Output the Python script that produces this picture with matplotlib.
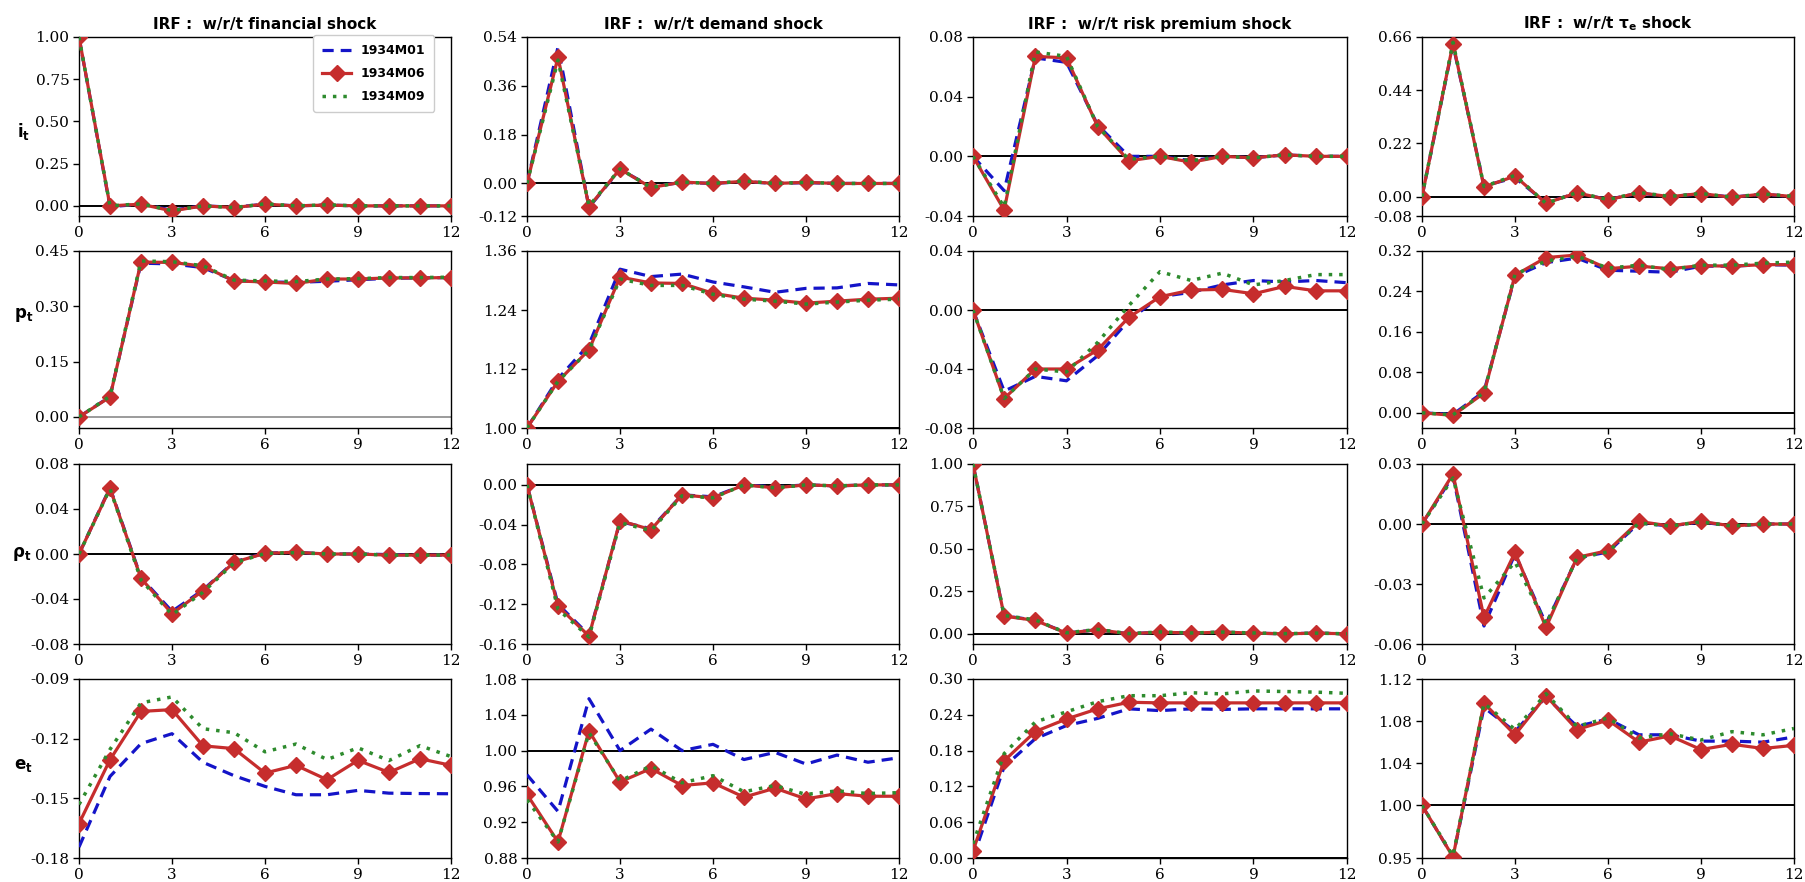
import matplotlib
matplotlib.use("Agg")
import matplotlib.pyplot as plt

plt.rcParams['axes.unicode_minus'] = False

t = list(range(13))
labels = ["1934M01", "1934M06", "1934M09"]
shock_titles = ["financial shock", "demand shock", "risk premium shock", r"$\mathbf{\tau_e}$ shock"]
var_labels = [r"$\mathbf{i_t}$", r"$\mathbf{p_t}$", r"$\mathbf{\rho_t}$", r"$\mathbf{e_t}$"]

# ---- row 1: i_t ----
i_fin_m01 = [1.0, -0.005, 0.01, -0.025, 0.0, -0.008, 0.01, 0.0, 0.005, 0.0, 0.0, 0.0, 0.0]
i_fin_m06 = [1.0, 0.0, 0.01, -0.03, 0.0, -0.01, 0.01, 0.0, 0.005, 0.0, 0.0, 0.0, 0.0]
i_fin_m09 = [1.0, 0.0, 0.012, -0.028, 0.0, -0.01, 0.012, 0.0, 0.006, 0.0, 0.0, 0.0, 0.0]

i_dem_m01 = [0, 0.503, -0.088, 0.052, -0.012, 0.004, 0.0, 0.007, 0.0, 0.003, 0.0, 0.0, 0.0]
i_dem_m06 = [0, 0.466, -0.086, 0.053, -0.015, 0.005, 0.0, 0.008, 0.0, 0.004, 0.0, 0.0, 0.0]
i_dem_m09 = [0, 0.455, -0.083, 0.054, -0.015, 0.005, 0.0, 0.009, 0.0, 0.004, 0.0, 0.0, 0.0]

i_rp_m01 = [0, -0.023, 0.066, 0.063, 0.021, 0.0, 0.0, -0.003, 0.0, -0.001, 0.001, 0.0, 0.0]
i_rp_m06 = [0, -0.036, 0.067, 0.066, 0.020, -0.003, 0.0, -0.004, 0.0, -0.001, 0.001, 0.0, 0.0]
i_rp_m09 = [0, -0.034, 0.070, 0.067, 0.020, -0.002, 0.0, -0.003, 0.0, -0.001, 0.001, 0.0, 0.0]

i_tau_m01 = [0, 0.628, 0.045, 0.078, -0.025, 0.015, -0.012, 0.015, 0.0, 0.012, -0.002, 0.010, 0.0]
i_tau_m06 = [0, 0.633, 0.040, 0.085, -0.027, 0.016, -0.013, 0.016, 0.0, 0.013, -0.003, 0.011, 0.0]
i_tau_m09 = [0, 0.638, 0.042, 0.088, -0.028, 0.017, -0.012, 0.017, 0.001, 0.013, -0.002, 0.011, 0.001]

# ---- row 2: p_t ----
p_fin_m01 = [0, 0.055, 0.417, 0.415, 0.405, 0.370, 0.366, 0.365, 0.368, 0.372, 0.376, 0.377, 0.378]
p_fin_m06 = [0, 0.054, 0.420, 0.419, 0.409, 0.369, 0.366, 0.362, 0.374, 0.374, 0.377, 0.377, 0.378]
p_fin_m09 = [0, 0.056, 0.423, 0.421, 0.410, 0.371, 0.369, 0.367, 0.374, 0.375, 0.378, 0.378, 0.379]

p_dem_m01 = [1.0, 1.100, 1.170, 1.323, 1.308, 1.313, 1.297, 1.287, 1.276, 1.284, 1.285, 1.294, 1.291]
p_dem_m06 = [1.0, 1.095, 1.159, 1.307, 1.295, 1.294, 1.274, 1.264, 1.260, 1.254, 1.258, 1.262, 1.264]
p_dem_m09 = [1.0, 1.095, 1.158, 1.303, 1.290, 1.290, 1.272, 1.262, 1.258, 1.252, 1.256, 1.260, 1.262]

p_rp_m01 = [0, -0.055, -0.045, -0.048, -0.031, -0.007, 0.009, 0.012, 0.017, 0.020, 0.019, 0.020, 0.0185]
p_rp_m06 = [0, -0.060, -0.040, -0.040, -0.027, -0.005, 0.009, 0.0135, 0.014, 0.011, 0.016, 0.013, 0.013]
p_rp_m09 = [0, -0.060, -0.040, -0.042, -0.022, 0.003, 0.026, 0.020, 0.025, 0.017, 0.020, 0.024, 0.024]

p_tau_m01 = [0, -0.003, 0.042, 0.270, 0.297, 0.306, 0.282, 0.280, 0.278, 0.290, 0.290, 0.293, 0.292]
p_tau_m06 = [0, -0.005, 0.039, 0.272, 0.307, 0.312, 0.285, 0.290, 0.285, 0.291, 0.290, 0.293, 0.293]
p_tau_m09 = [0, -0.004, 0.040, 0.274, 0.300, 0.310, 0.286, 0.292, 0.283, 0.292, 0.292, 0.296, 0.298]

# ---- row 3: rho_t ----
r_fin_m01 = [0, 0.059, -0.021, -0.051, -0.032, -0.007, 0.0008, 0.0015, 0.0, 0.0, -0.0005, -0.001, -0.001]
r_fin_m06 = [0, 0.0584, -0.0216, -0.053, -0.0326, -0.0074, 0.0006, 0.0015, 0.0, 0.0, -0.001, -0.001, -0.001]
r_fin_m09 = [0, 0.058, -0.023, -0.054, -0.034, -0.008, 0.0005, 0.0012, 0.0, 0.0, -0.001, -0.001, -0.001]

r_dem_m01 = [0, -0.120, -0.151, -0.037, -0.044, -0.010, -0.012, 0.0, -0.002, 0.0, -0.001, 0.0, 0.0]
r_dem_m06 = [0, -0.122, -0.152, -0.036, -0.045, -0.010, -0.013, 0.0, -0.003, 0.0, -0.001, 0.0, 0.0]
r_dem_m09 = [0, -0.125, -0.153, -0.038, -0.046, -0.011, -0.013, 0.0, -0.003, 0.0, -0.001, 0.0, 0.0]

r_rp_m01 = [1.0, 0.106, 0.080, 0.005, 0.024, 0.0, 0.010, 0.004, 0.010, 0.004, 0.0, 0.004, 0.0]
r_rp_m06 = [1.0, 0.104, 0.079, 0.004, 0.024, 0.0, 0.010, 0.004, 0.010, 0.004, 0.0, 0.004, 0.0]
r_rp_m09 = [1.0, 0.108, 0.082, 0.006, 0.026, 0.001, 0.011, 0.005, 0.010, 0.005, 0.001, 0.004, 0.0]

r_tau_m01 = [0, 0.024, -0.051, -0.015, -0.050, -0.017, -0.014, 0.0005, -0.001, 0.001, -0.001, 0.0, 0.0]
r_tau_m06 = [0, 0.025, -0.0467, -0.0142, -0.0517, -0.0167, -0.0133, 0.0013, -0.001, 0.0013, -0.001, 0.0, 0.0]
r_tau_m09 = [0, 0.023, -0.037, -0.019, -0.050, -0.017, -0.014, 0.0005, -0.001, 0.001, -0.001, 0.0, 0.0]

# ---- row 4: e_t ----
e_fin_m01 = [-0.1745, -0.139, -0.1225, -0.1175, -0.1319, -0.1386, -0.144, -0.1482, -0.1482, -0.146, -0.1474, -0.1476, -0.1477]
e_fin_m06 = [-0.1627, -0.1306, -0.1063, -0.1054, -0.1236, -0.125, -0.1373, -0.1334, -0.1406, -0.1309, -0.137, -0.1301, -0.1334]
e_fin_m09 = [-0.1531, -0.1254, -0.102, -0.099, -0.115, -0.117, -0.1266, -0.1227, -0.1305, -0.1246, -0.131, -0.1235, -0.129]

e_dem_m01 = [0.973, 0.932, 1.058, 1.000, 1.024, 1.000, 1.007, 0.990, 0.998, 0.985, 0.995, 0.987, 0.992]
e_dem_m06 = [0.951, 0.898, 1.022, 0.965, 0.980, 0.961, 0.964, 0.948, 0.958, 0.946, 0.952, 0.949, 0.949]
e_dem_m09 = [0.945, 0.898, 1.020, 0.966, 0.983, 0.964, 0.972, 0.954, 0.961, 0.951, 0.955, 0.952, 0.953]

e_rp_m01 = [0.0, 0.153, 0.200, 0.222, 0.234, 0.250, 0.247, 0.250, 0.249, 0.250, 0.250, 0.250, 0.250]
e_rp_m06 = [0.012, 0.163, 0.212, 0.233, 0.250, 0.261, 0.260, 0.260, 0.260, 0.260, 0.260, 0.260, 0.260]
e_rp_m09 = [0.024, 0.175, 0.228, 0.245, 0.262, 0.272, 0.272, 0.277, 0.275, 0.280, 0.279, 0.278, 0.276]

e_tau_m01 = [1.0, 0.951, 1.093, 1.070, 1.103, 1.075, 1.082, 1.067, 1.067, 1.061, 1.061, 1.060, 1.065]
e_tau_m06 = [1.0, 0.951, 1.097, 1.067, 1.104, 1.072, 1.081, 1.060, 1.066, 1.053, 1.058, 1.054, 1.057]
e_tau_m09 = [1.0, 0.952, 1.097, 1.072, 1.106, 1.075, 1.083, 1.064, 1.068, 1.062, 1.070, 1.067, 1.073]

series = [
    [(i_fin_m01, i_fin_m06, i_fin_m09), (i_dem_m01, i_dem_m06, i_dem_m09),
     (i_rp_m01, i_rp_m06, i_rp_m09), (i_tau_m01, i_tau_m06, i_tau_m09)],
    [(p_fin_m01, p_fin_m06, p_fin_m09), (p_dem_m01, p_dem_m06, p_dem_m09),
     (p_rp_m01, p_rp_m06, p_rp_m09), (p_tau_m01, p_tau_m06, p_tau_m09)],
    [(r_fin_m01, r_fin_m06, r_fin_m09), (r_dem_m01, r_dem_m06, r_dem_m09),
     (r_rp_m01, r_rp_m06, r_rp_m09), (r_tau_m01, r_tau_m06, r_tau_m09)],
    [(e_fin_m01, e_fin_m06, e_fin_m09), (e_dem_m01, e_dem_m06, e_dem_m09),
     (e_rp_m01, e_rp_m06, e_rp_m09), (e_tau_m01, e_tau_m06, e_tau_m09)],
]

ylims = [
    [(-0.06, 1.0), (-0.12, 0.54), (-0.04, 0.08), (-0.08, 0.66)],
    [(-0.03, 0.45), (1.0, 1.36), (-0.08, 0.04), (-0.03, 0.32)],
    [(-0.08, 0.08), (-0.16, 0.021), (-0.06, 1.0), (-0.06, 0.03)],
    [(-0.18, -0.09), (0.88, 1.08), (0.0, 0.30), (0.95, 1.12)],
]
yticks = [
    [[0, 0.25, 0.5, 0.75, 1.0], [-0.12, 0, 0.18, 0.36, 0.54], [-0.04, 0, 0.04, 0.08], [-0.08, 0, 0.22, 0.44, 0.66]],
    [[0, 0.15, 0.30, 0.45], [1.0, 1.12, 1.24, 1.36], [-0.08, -0.04, 0, 0.04], [0, 0.08, 0.16, 0.24, 0.32]],
    [[-0.08, -0.04, 0, 0.04, 0.08], [-0.16, -0.12, -0.08, -0.04, 0.0], [0, 0.25, 0.5, 0.75, 1.0], [-0.06, -0.03, 0, 0.03]],
    [[-0.18, -0.15, -0.12, -0.09], [0.88, 0.92, 0.96, 1.0, 1.04, 1.08], [0, 0.06, 0.12, 0.18, 0.24, 0.30], [0.95, 1.0, 1.04, 1.08, 1.12]],
]
hlines = [
    [0, 0, 0, 0],
    [0, 1.0, 0, 0],
    [0, 0, 0, 0],
    [None, 1.0, 0, 1.0],
]

W, H = 1805, 882
fig = plt.figure(figsize=(W / 100, H / 100), dpi=100)

col_x = [(79, 451), (527, 899), (973, 1347), (1422, 1794)]
row_y = [(37, 216), (251, 428), (464, 644), (679, 858)]
label_pos = [(-0.15, 0.47), (-0.15, 0.64), (-0.155, 0.50), (-0.15, 0.52)]

blue = "#1414c8"
red = "#c62d2d"
green = "#2e8b2e"

for r in range(4):
    for c in range(4):
        x0, x1 = col_x[c]
        y0, y1 = row_y[r]
        ax = fig.add_axes([x0 / W, 1 - y1 / H, (x1 - x0) / W, (y1 - y0) / H])
        s01, s06, s09 = series[r][c]
        if hlines[r][c] is not None:
            if r == 1 and c == 0:
                ax.axhline(hlines[r][c], color="#808080", lw=1.1, zorder=1)
            else:
                ax.axhline(hlines[r][c], color="black", lw=1.4, zorder=1)
        ax.plot(t, s01, color=blue, ls=(0, (3.5, 2.2)), lw=2.3, label=labels[0], zorder=3)
        ax.plot(t, s06, color=red, ls="-", lw=2.3, marker="D", ms=8.5, label=labels[1], zorder=4)
        ax.plot(t, s09, color=green, ls=(0, (1, 2.0)), lw=2.5, label=labels[2], zorder=5)
        ax.set_xlim(0, 12)
        ax.set_xticks([0, 3, 6, 9, 12])
        ax.set_ylim(*ylims[r][c])
        ax.set_yticks(yticks[r][c])
        ax.set_yticklabels(["%.2f" % v for v in yticks[r][c]])
        for lab in ax.get_xticklabels() + ax.get_yticklabels():
            lab.set_fontfamily("DejaVu Serif")
            lab.set_fontsize(11)
        ax.tick_params(length=4, width=1, pad=3)
        for sp in ax.spines.values():
            sp.set_linewidth(1.0)
        if r == 0:
            ax.set_title("IRF :  w/r/t " + shock_titles[c], fontsize=11, fontweight="bold", pad=6)
        if c == 0:
            ax.set_ylabel(var_labels[r], rotation=0, fontsize=12, fontweight="bold", ha="center", va="center")
            ax.yaxis.set_label_coords(*label_pos[r])
        if r == 0 and c == 0:
            ax.legend(loc="upper right", bbox_to_anchor=(0.955, 1.01), borderaxespad=0,
                      prop={"weight": "bold", "size": 9},
                      handlelength=2.3, borderpad=0.7, labelspacing=0.8, framealpha=1)

fig.savefig("out.png", dpi=100)
